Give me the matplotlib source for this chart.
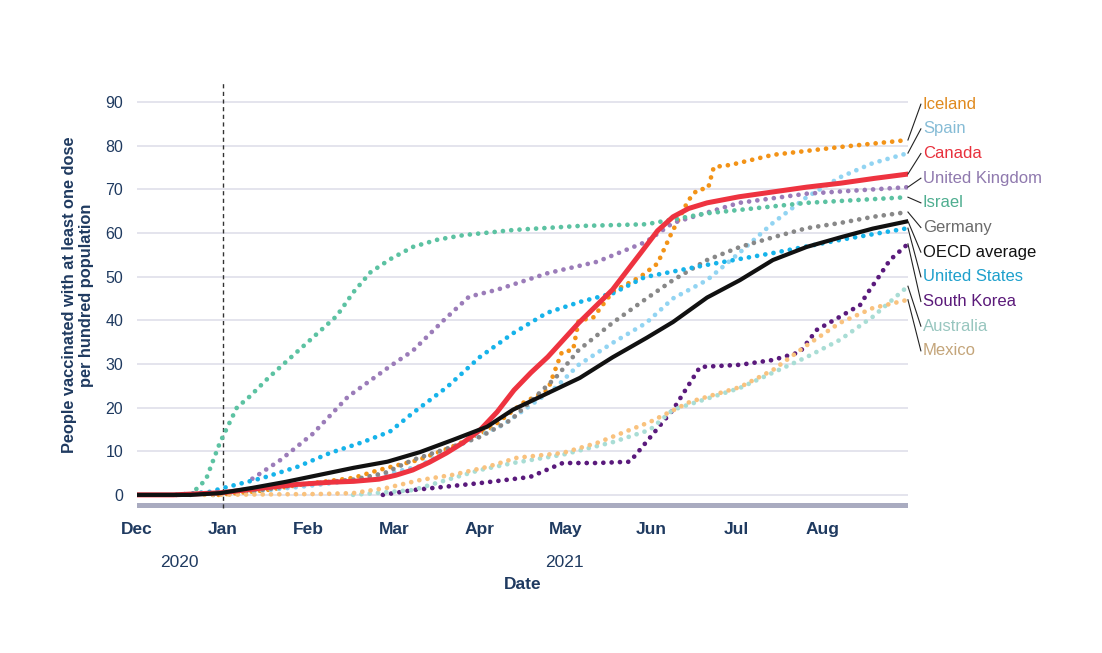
import matplotlib.pyplot as plt

plt.rcParams['font.family'] = ['Liberation Sans', 'DejaVu Sans']

navy = '#1f3a60'

# x values are days since 1 Dec 2020
month_labels = ['Dec', 'Jan', 'Feb', 'Mar', 'Apr', 'May', 'Jun', 'Jul', 'Aug']
year_labels = ['2020', '2021']
y_ticks = [0, 10, 20, 30, 40, 50, 60, 70, 80, 90]

iceland_days = [29, 45, 60, 77, 86, 100, 112, 125, 137, 146, 149, 151, 155, 157, 162, 169, 179, 185, 190, 196, 199, 203, 205, 211, 226, 250, 274]
iceland_vals = [0, 1, 2.5, 3.9, 5.7, 8, 11, 14.9, 21, 24, 29.3, 32.7, 33.2, 40, 40.5, 46.5, 50, 53, 60, 67.5, 69.8, 70.3, 75.1, 75.6, 77.9, 79.7, 81.3]

spain_days = [27, 45, 60, 80, 100, 110, 130, 149, 157, 169, 181, 190.5, 202.6, 214, 226, 238, 250, 261.5, 274]
spain_vals = [0, 1, 2, 3.5, 6.5, 10, 16, 24.7, 29.8, 34.8, 39.4, 45, 49.2, 55.4, 62.3, 68.2, 72.8, 76, 78.3]

canada_days = [0, 13, 30, 45, 57, 69, 77, 86, 92, 98, 104, 110, 116, 122, 128, 134, 140, 146, 157, 169, 179, 185, 190.5, 196, 202.6, 214, 226, 238, 250, 262, 274]
canada_vals = [0, 0, 0.5, 1.6, 2.4, 2.9, 3.1, 3.6, 4.5, 5.7, 7.5, 9.6, 12, 14.9, 19, 24, 28, 31.6, 39.4, 47, 55.4, 60.5, 63.7, 65.6, 66.9, 68.3, 69.4, 70.5, 71.4, 72.5, 73.5]

uk_days = [41, 51, 62.5, 75, 90, 98, 109, 118, 128, 146, 163.5, 181, 190.5, 214, 238, 274]
uk_vals = [3.7, 8, 14, 22.5, 29.5, 33, 40, 45.4, 47, 50.8, 53.4, 58, 62.3, 66.9, 69, 70.5]

israel_days = [19, 24.5, 29.5, 35.5, 40, 47, 59, 71, 77, 83, 90, 98, 107, 116, 134, 157, 181, 202.5, 238, 274]
israel_vals = [0, 3.5, 12, 20, 22.5, 27, 34, 41, 46.5, 51, 54, 56.8, 58.5, 59.5, 60.7, 61.6, 62, 64.5, 66.9, 68.2]

germany_days = [27, 45, 57, 77, 88, 98, 112, 122, 133, 149, 157, 169, 180, 190.5, 202.6, 214.3, 226, 238, 250, 261.5, 274]
germany_vals = [0, 1.2, 2.3, 3.5, 5, 8, 11, 13.3, 17.2, 27, 33.2, 39.4, 44.5, 49.2, 53.8, 56.8, 59, 61.1, 62.3, 63.7, 64.8]

oecd_days = [0, 19, 29.5, 41, 53, 65, 77, 89, 100.6, 112.3, 124.4, 133.6, 145, 157.4, 169, 181.2, 190.5, 202.6, 214.3, 226, 238, 250, 261.5, 274]
oecd_vals = [0, 0, 0.4, 1.6, 3, 4.6, 6.2, 7.6, 9.8, 12.6, 15.6, 19.5, 23, 26.8, 31.5, 36, 39.6, 45.2, 49.2, 53.8, 56.8, 59, 61, 62.7]

us_days = [14, 25.9, 30.2, 44.8, 56.9, 68.6, 80.3, 89.9, 98.1, 110.2, 121.9, 133.6, 145.7, 157.4, 169.2, 180.5, 202.6, 226, 249.8, 274]
us_vals = [0, 0.7, 1.5, 3.9, 6.4, 9.6, 12.1, 14.5, 18.8, 24.7, 31.6, 37, 41.7, 44.2, 46.2, 49.9, 52.7, 55.4, 58.4, 61.1]

korea_days = [87.4, 98.1, 121.9, 139.7, 151.3, 163.5, 175.2, 178.7, 190.5, 200.1, 214.3, 226, 235.6, 241.6, 249.8, 257, 259.4, 264, 267.6, 274]
korea_vals = [0, 1.1, 2.7, 4.1, 7.3, 7.3, 7.6, 10.3, 19.5, 29.3, 29.8, 30.9, 32.7, 37.8, 40.8, 43.5, 46, 50.3, 53.8, 57.5]

australia_days = [76.8, 98.1, 121.9, 133.6, 151.3, 169.2, 182.3, 190.5, 214.3, 238.1, 249.8, 261.5, 274]
australia_vals = [0, 1.1, 5.7, 7.3, 9.2, 12.1, 14.9, 19.5, 24.5, 31.6, 35.5, 40.8, 47.8]

mexico_days = [24, 65, 76.8, 88.8, 100.6, 112.3, 124.4, 135, 151.3, 163.5, 175.2, 182.3, 196.5, 214.3, 226, 238.1, 249.8, 261.5, 274]
mexico_vals = [0, 0.2, 0.4, 1.6, 3.4, 4.6, 6.4, 8.5, 9.6, 11.9, 14.9, 16.7, 21.3, 24.7, 28.6, 34.3, 39.4, 42.8, 44.7]

# name, days, values, line colour, label colour, solid?
series = [
    ('Iceland', iceland_days, iceland_vals, '#f39317', '#e08a1e', False),
    ('Spain', spain_days, spain_vals, '#92d4f2', '#86bcd6', False),
    ('Canada', canada_days, canada_vals, '#ee3340', '#e8303c', True),
    ('United Kingdom', uk_days, uk_vals, '#9b7cb9', '#8f79ae', False),
    ('Israel', israel_days, israel_vals, '#5cc2a2', '#4fae90', False),
    ('Germany', germany_days, germany_vals, '#888888', '#6b6b6b', False),
    ('OECD average', oecd_days, oecd_vals, '#111111', '#111111', True),
    ('United States', us_days, us_vals, '#16b3ea', '#1ea0cc', False),
    ('South Korea', korea_days, korea_vals, '#5a1a7c', '#5b1a7a', False),
    ('Australia', australia_days, australia_vals, '#a9ddd5', '#98c6bf', False),
    ('Mexico', mexico_days, mexico_vals, '#f9c27e', '#c4a57a', False),
]

fig = plt.figure(figsize=(11.02, 6.53), dpi=100)
ax = fig.add_axes([0.1243, 0.2221, 0.6996, 0.6524])

x_end = 274
ax.set_xlim(0, x_end)
ax.set_ylim(-3.0, 94.6)

# grid + bottom bar
for t in y_ticks:
    ax.axhline(t, color='#dcdce8', lw=1.1, zorder=0)
ax.axhspan(-3.0, -1.8, color='#a9abc0', lw=0, zorder=1)

step = x_end / 9
tick_pos = [i * step for i in range(9)]
ax.axvline(tick_pos[1], color='#333333', lw=1.0, ls=(0, (3, 2.5)), zorder=1, clip_on=False)

# dotted ones first, solid on top
order = [s for s in series if not s[5]] + [s for s in series if s[0] == 'Canada'] + [s for s in series if s[0] == 'OECD average']
for name, d, v, col, lcol, solid in order:
    if solid:
        lw = 3.6 if name == 'Canada' else 3.0
        ax.plot(d, v, color=col, lw=lw, solid_capstyle='round', solid_joinstyle='round', zorder=4)
    else:
        ax.plot(d, v, color=col, lw=3.4, ls=(0, (0.01, 1.75)), dash_capstyle='round', zorder=3)

# right side labels with leader lines
label_top = 89.5
label_gap = 5.65
for i, (name, d, v, col, lcol, solid) in enumerate(series):
    ly = label_top - i * label_gap
    ax.plot([d[-1], 278.6], [v[-1], ly], color='#222222', lw=0.8, clip_on=False, zorder=5)
    ax.text(279.3, ly, name, color=lcol, fontsize=12, ha='left', va='center', clip_on=False)

ax.set_xticks(tick_pos)
ax.set_xticklabels(month_labels, fontsize=12.5, fontweight='bold', color=navy)
ax.set_yticks(y_ticks)
ax.set_yticklabels([str(t) for t in y_ticks], fontsize=11.5, color=navy)
ax.tick_params(axis='x', length=0, pad=10)
ax.tick_params(axis='y', length=0, pad=10)
for sp in ax.spines.values():
    sp.set_visible(False)

# year labels and axis titles
ax.text(15, -0.128, year_labels[0], transform=ax.get_xaxis_transform(), fontsize=12.5,
        color=navy, ha='center', va='center')
ax.text(152, -0.128, year_labels[1], transform=ax.get_xaxis_transform(), fontsize=12.5,
        color=navy, ha='center', va='center')
ax.text(0.5, -0.18, 'Date', transform=ax.transAxes, fontsize=12.5, fontweight='bold',
        color=navy, ha='center', va='center')
ax.set_ylabel('People vaccinated with at least one dose\nper hundred population',
              fontsize=11.8, fontweight='bold', color=navy, labelpad=8, linespacing=1.2)

fig.savefig('out.png', dpi=100)
